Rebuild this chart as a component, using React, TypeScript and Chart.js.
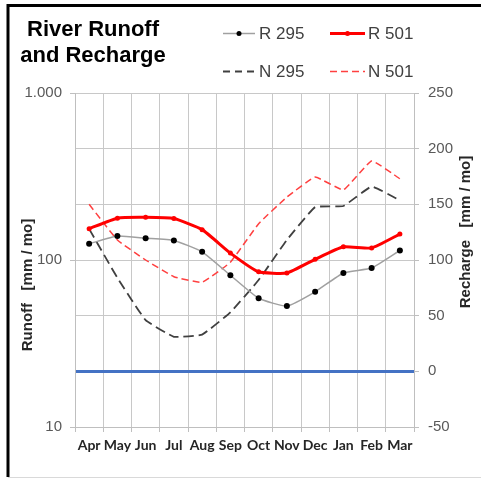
import React, { useEffect, useRef } from "react";
import { Chart, registerables } from "chart.js";

Chart.register(...registerables);

const months = ["Apr", "May", "Jun", "Jul", "Aug", "Sep", "Oct", "Nov", "Dec", "Jan", "Feb", "Mar"];
const r295 = [125, 139, 135, 131, 112, 81, 59, 53, 64.5, 83.6, 89.5, 114];
const r501 = [154, 178, 180, 177, 152, 110, 85, 83.6, 101, 120, 118, 143];
const n295 = [128, 84, 46, 31, 33, 53, 82, 118, 147.5, 148.5, 166, 153.6];
const n501 = [150, 118, 100, 85, 80, 98, 132.6, 156.5, 174.5, 163, 189, 173];
const runoffTicks = [10, 100, 1000];
const runoffTickLabels = ["10", "100", "1.000"];
const rechargeMin = -50;
const rechargeMax = 250;
const rechargeStep = 50;
const rechargeBaseline = 0;

const W = 481;
const H = 479;

export default function App() {
  const ref = useRef<HTMLCanvasElement | null>(null);

  useEffect(() => {
    if (!ref.current) return;
    const chart = new Chart(ref.current, {
      type: "line",
      data: {
        labels: months,
        datasets: [
          {
            label: "R 295",
            data: r295,
            yAxisID: "y",
            borderColor: "#a0a0a0",
            borderWidth: 1.5,
            pointRadius: 3,
            pointBackgroundColor: "#000",
            pointBorderColor: "#000",
            pointBorderWidth: 0,
            tension: 0.15,
          },
          {
            label: "R 501",
            data: r501,
            yAxisID: "y",
            borderColor: "#ff0000",
            borderWidth: 3,
            pointRadius: 2.5,
            pointBackgroundColor: "#ff0000",
            pointBorderColor: "#ff0000",
            pointBorderWidth: 0,
            tension: 0.15,
          },
          {
            label: "N 295",
            data: n295,
            yAxisID: "y2",
            borderColor: "#404040",
            borderWidth: 1.8,
            borderDash: [10, 5],
            pointRadius: 0,
            tension: 0.1,
          },
          {
            label: "N 501",
            data: n501,
            yAxisID: "y2",
            borderColor: "#ff4040",
            borderWidth: 1.5,
            borderDash: [7, 4],
            pointRadius: 0,
            tension: 0.1,
          },
        ],
      },
      options: {
        animation: false,
        responsive: false,
        layout: { padding: { top: 93, left: 0, right: 0, bottom: 0 } },
        plugins: {
          legend: { display: false },
          tooltip: { enabled: false },
          title: { display: false },
        },
        scales: {
          x: {
            type: "category",
            offset: true,
            grid: {
              offset: true,
              color: "#c8c8c8",
              tickLength: 5,
              tickColor: "#bfbfbf",
            },
            border: { color: "#bfbfbf" },
            ticks: {
              autoSkip: false,
              maxRotation: 0,
              minRotation: 0,
              padding: 5,
              color: "#262626",
              font: { family: "Lato", weight: "bold", size: 14 },
            },
            afterFit: (s: any) => {
              s.height = 52;
            },
          },
          y: {
            type: "logarithmic",
            position: "left",
            min: 10,
            max: 1000,
            grid: {
              drawOnChartArea: false,
              tickLength: 5,
              color: "#bfbfbf",
            },
            border: { color: "#bfbfbf" },
            afterBuildTicks: (s: any) => {
              s.ticks = runoffTicks.map((v) => ({ value: v }));
            },
            ticks: {
              padding: 8,
              color: "#595959",
              font: { family: "Liberation Sans", size: 15 },
              callback: (v: any) => {
                const i = runoffTicks.indexOf(Number(v));
                return i >= 0 ? runoffTickLabels[i] : "";
              },
            },
            afterFit: (s: any) => {
              s.width = 75;
            },
          },
          y2: {
            type: "linear",
            position: "right",
            min: rechargeMin,
            max: rechargeMax,
            grid: {
              color: (c: any) => (c.tick && c.tick.value === rechargeBaseline ? "#4472c4" : "#c8c8c8"),
              lineWidth: (c: any) => (c.tick && c.tick.value === rechargeBaseline ? 3 : 1),
              tickColor: "#bfbfbf",
              tickWidth: 1,
              tickLength: 5,
            },
            border: { color: "#bfbfbf" },
            ticks: {
              stepSize: rechargeStep,
              padding: 9,
              color: "#595959",
              font: { family: "Liberation Sans", size: 15 },
            },
            afterFit: (s: any) => {
              s.width = 67;
            },
          },
        },
      },
    });
    return () => chart.destroy();
  }, []);

  const legendFont = { fontFamily: "Liberation Sans, Arial, sans-serif", fontSize: 17, fill: "#404040" } as any;
  const axisTitleFont = {
    fontFamily: "Liberation Sans, Arial, sans-serif",
    fontSize: 15,
    fontWeight: "bold",
    fill: "#262626",
  } as any;

  return (
    <div style={{ position: "fixed", left: 0, top: 0, width: W, height: H, background: "#fff" }}>
      <canvas ref={ref} width={W} height={H} style={{ position: "absolute", left: 0, top: 0, width: W, height: H }} />
      <svg
        width={W}
        height={H}
        style={{ position: "absolute", left: 0, top: 0, pointerEvents: "none" }}
      >
        <line x1={7} y1={5.5} x2={W} y2={5.5} stroke="#000" strokeWidth={3} />
        <line x1={8} y1={4} x2={8} y2={477} stroke="#000" strokeWidth={3} />
        <line x1={8} y1={477.5} x2={W} y2={477.5} stroke="#d9d9d9" strokeWidth={1} />

        <text x={93} y={36} textAnchor="middle" style={{ fontFamily: "Liberation Sans, Arial", fontSize: 22, fontWeight: "bold" }}>
          River Runoff
        </text>
        <text x={93} y={62} textAnchor="middle" style={{ fontFamily: "Liberation Sans, Arial", fontSize: 22, fontWeight: "bold" }}>
          and Recharge
        </text>

        <line x1={223} y1={33.5} x2={255} y2={33.5} stroke="#a0a0a0" strokeWidth={1.5} />
        <circle cx={239} cy={33.5} r={2.5} fill="#000" />
        <text x={259} y={39} style={legendFont}>R 295</text>

        <line x1={330} y1={33.5} x2={365} y2={33.5} stroke="#ff0000" strokeWidth={3} />
        <circle cx={347.5} cy={33.5} r={2.5} fill="#ff0000" />
        <text x={368} y={39} style={legendFont}>R 501</text>

        <line x1={223} y1={71.5} x2={255} y2={71.5} stroke="#404040" strokeWidth={1.8} strokeDasharray="7 5" />
        <text x={259} y={77} style={legendFont}>N 295</text>

        <line x1={330} y1={71.5} x2={365} y2={71.5} stroke="#ff4040" strokeWidth={1.5} strokeDasharray="7 4" />
        <text x={368} y={77} style={legendFont}>N 501</text>

        <text
          x={0}
          y={0}
          textAnchor="middle"
          transform="translate(32,285) rotate(-90)"
          style={{ ...axisTitleFont, whiteSpace: "pre" }}
          xmlSpace="preserve"
        >
          {"Runoff   [mm / mo]"}
        </text>
        <text
          x={0}
          y={0}
          textAnchor="middle"
          transform="translate(470,232) rotate(-90)"
          style={{ ...axisTitleFont, whiteSpace: "pre" }}
          xmlSpace="preserve"
        >
          {"Recharge   [mm / mo]"}
        </text>
      </svg>
    </div>
  );
}
